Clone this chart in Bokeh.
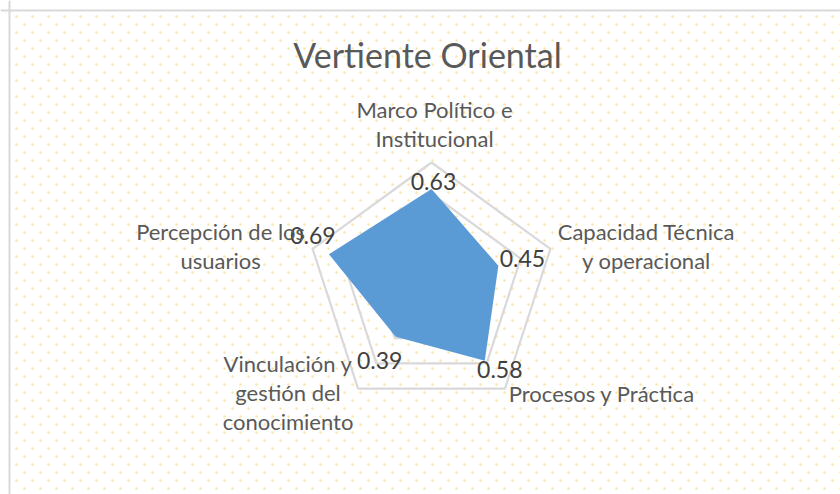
import numpy as np
from bokeh.plotting import figure
from bokeh.models import Range1d, Span, Label, ColumnDataSource
from bokeh.embed import file_html
from bokeh.resources import INLINE
from bokeh.core.properties import value

# ---- data ----
title = "Vertiente Oriental"
categories = [
    "Marco Político e\nInstitucional",
    "Capacidad Técnica\ny operacional",
    "Procesos y Práctica",
    "Vinculación y\ngestión del\nconocimiento",
    "Percepción de los\nusuarios",
]
values = [0.63, 0.45, 0.58, 0.39, 0.69]
value_labels = ["0.63", "0.45", "0.58", "0.39", "0.69"]
grid_levels = [0.2, 0.4, 0.6, 0.8]
r_max = 0.8

# ---- layout ----
W, H = 840, 494
PX = 156.25            # pixels per value unit (0.8 -> 125 px)
CX, CY = 431, 287      # radar centre in pixels
FONT = "Lato"

# label placement (pixel offsets from the outer vertex / data point; y down)
cat_dx = [3, 96, 97, -70, -92]
cat_dy = [-53, -17, 5, -25, -17]
line_step = 29
val_dx = [2, 24, 15, -16, -16]
val_dy = [-8, -7, 9, 24, -19]

x0, x1 = -CX / PX, (W - CX) / PX
y1, y0 = CY / PX, (CY - H) / PX

def to_data(px, py):
    """pixel -> data coordinates"""
    return (np.asarray(px) - CX) / PX, (CY - np.asarray(py)) / PX

p = figure(width=W, height=H, x_range=Range1d(x0, x1), y_range=Range1d(y0, y1),
           output_backend="svg", toolbar_location=None, min_border=0,
           x_axis_location=None, y_axis_location=None,
           background_fill_color="white", border_fill_color="white",
           outline_line_color=None)
p.grid.visible = False

# dotted background pattern
gx, gy = np.meshgrid(np.arange(16, 841, 8), np.arange(16, 495, 8))
mask = ((gx + gy) % 16) == 0
dx, dy = to_data(gx[mask], gy[mask])
p.scatter(dx, dy, size=2.5, marker="circle", fill_color="#F6D46A",
          line_color=None, fill_alpha=0.6)

# chart area border (top and left visible)
bx, by = to_data(9, 10)
p.add_layout(Span(location=float(by), dimension="width", line_color="#D9D9D9", line_width=2))
p.add_layout(Span(location=float(bx), dimension="height", line_color="#D9D9D9", line_width=2))

n = len(categories)
theta = np.pi / 2 - 2 * np.pi * np.arange(n) / n
cos_t, sin_t = np.cos(theta), np.sin(theta)

# grid rings
for lvl in grid_levels:
    xs = list(lvl * cos_t) + [lvl * cos_t[0]]
    ys = list(lvl * sin_t) + [lvl * sin_t[0]]
    p.line(xs, ys, line_color="#D9D9D9", line_width=2.2)

# filled series
v = np.array(values)
p.patch(v * cos_t, v * sin_t, fill_color="#5B9BD5", line_color=None)

# value labels
vsrc = ColumnDataSource(dict(x=v * cos_t, y=v * sin_t, t=value_labels,
                             xo=val_dx, yo=val_dy))
p.text("x", "y", text="t", x_offset="xo", y_offset="yo", source=vsrc,
       text_font=value(FONT), text_font_size="23px", text_color="#404040",
       text_align="center", text_baseline="middle")

# category labels
lx, ly, lt, lxo, lyo = [], [], [], [], []
for k, cat in enumerate(categories):
    for i, line in enumerate(cat.split("\n")):
        lx.append(r_max * cos_t[k]); ly.append(r_max * sin_t[k])
        lt.append(line); lxo.append(cat_dx[k]); lyo.append(cat_dy[k] + i * line_step)
csrc = ColumnDataSource(dict(x=lx, y=ly, t=lt, xo=lxo, yo=lyo))
p.text("x", "y", text="t", x_offset="xo", y_offset="yo", source=csrc,
       text_font=value(FONT), text_font_size="22px", text_color="#595959",
       text_align="center", text_baseline="alphabetic")

# title
p.add_layout(Label(x=427, y=H - 54, x_units="screen", y_units="screen",
                   text=title, text_font=FONT, text_font_size="34px",
                   text_color="#595959", text_align="center",
                   text_baseline="alphabetic"))

open("out.html", "w").write(file_html(p, INLINE))
